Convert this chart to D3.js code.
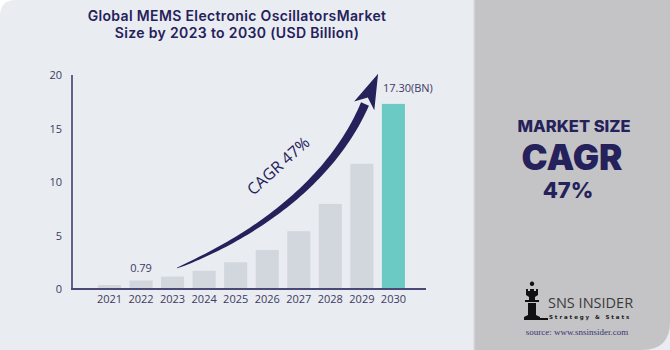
<!DOCTYPE html>
<html><head><meta charset="utf-8">
<script src="https://cdn.jsdelivr.net/npm/d3@7"></script>
<style>
html,body{margin:0;padding:0;background:#fff;}
svg{display:block;}
</style></head>
<body>
<svg id="chart" width="670" height="350"></svg>
<script>
const years = ["2021","2022","2023","2024","2025","2026","2027","2028","2029","2030"];
const values = [0.37, 0.79, 1.16, 1.7, 2.5, 3.65, 5.4, 7.95, 11.7, 17.3];
const yTicks = [0, 5, 10, 15, 20];
const titleLines = ["Global MEMS Electronic OscillatorsMarket", "Size by 2023 to 2030 (USD Billion)"];
const firstLabel = "0.79";
const lastLabel = "17.30(BN)";
const cagrText = "CAGR 47%";

const navy = "#25215a";
const svg = d3.select("#chart");

// backgrounds
svg.append("path")
  .attr("d", "M0,16 Q0,0 16,0 L474,0 L474,350 L0,350 Z")
  .attr("fill", "#e9ecf1");
svg.append("rect").attr("x", 474).attr("y", 0).attr("width", 196).attr("height", 350).attr("fill", "#e9ecf1");
svg.append("path")
  .attr("d", "M474,0 L670,0 L670,322 Q670,350 642,350 L474,350 Z")
  .attr("fill", "#c4c4c6");
svg.append("rect").attr("x", 473.5).attr("y", 0).attr("width", 1.6).attr("height", 350).attr("fill", "#d2d3d6");

// title
svg.append("text")
  .attr("x", 237).attr("text-anchor", "middle")
  .attr("font-family", "Inter, sans-serif").attr("font-weight", 600)
  .attr("font-size", 14).attr("letter-spacing", 0.35).attr("fill", navy)
  .selectAll("tspan").data(titleLines).join("tspan")
  .attr("x", 237).attr("y", (d, i) => 21 + i * 17).text(d => d);

// scales
const x = d3.scaleBand().domain(years).range([93.7, 409.2]).paddingInner(0.27).paddingOuter(0.135);
const y = d3.scaleLinear().domain([0, 20]).range([289, 75]);

// bars
svg.append("g").selectAll("rect").data(values).join("rect")
  .attr("x", (d, i) => x(years[i]))
  .attr("y", d => y(d))
  .attr("width", x.bandwidth())
  .attr("height", d => y(0) - y(d))
  .attr("fill", (d, i) => i === values.length - 1 ? "#6ccac4" : "#d1d7dc");

// y axis
const yAxis = svg.append("g").attr("transform", "translate(72,0)")
  .call(d3.axisLeft(y).tickValues(yTicks).tickSize(0).tickPadding(10));
yAxis.select(".domain").attr("stroke", "#34326a").attr("stroke-width", 1.5).attr("d", `M0,${y(20)}V${y(0)}`);
yAxis.selectAll("text").attr("font-family", "'Open Sans', sans-serif").attr("font-size", 11).attr("fill", "#3c3a62");

// x axis
const xAxis = svg.append("g").attr("transform", `translate(0,${y(0)})`)
  .call(d3.axisBottom(x).tickSize(0).tickPadding(6));
xAxis.select(".domain").attr("stroke", "#4a4874").attr("stroke-width", 2).attr("d", "M71,0H426");
xAxis.selectAll("text").attr("font-family", "'Open Sans', sans-serif").attr("font-size", 11).attr("fill", "#3c3a62");

// value labels
svg.append("text").attr("x", x(years[1]) + x.bandwidth() / 2).attr("y", y(values[1]) - 9)
  .attr("text-anchor", "middle").attr("font-family", "'Open Sans', sans-serif")
  .attr("font-size", 11).attr("fill", "#3c3a62").text(firstLabel);
svg.append("text").attr("x", x(years[9]) + 1).attr("y", y(values[9]) - 12)
  .attr("font-family", "'Open Sans', sans-serif")
  .attr("font-size", 11).attr("fill", "#3c3a62").text(lastLabel);

// curved arrow
const P0 = [177, 268], C1 = [250, 238], C2 = [330, 185], P3 = [365, 104];
function bez(t) {
  const mt = 1 - t;
  return [0, 1].map(k => mt*mt*mt*P0[k] + 3*mt*mt*t*C1[k] + 3*mt*t*t*C2[k] + t*t*t*P3[k]);
}
function der(t) {
  const mt = 1 - t;
  return [0, 1].map(k => 3*mt*mt*(C1[k]-P0[k]) + 6*mt*t*(C2[k]-C1[k]) + 3*t*t*(P3[k]-C2[k]));
}
const N = 60, left = [], right = [];
for (let i = 0; i <= N; i++) {
  const t = i / N, p = bez(t), d = der(t);
  const L = Math.hypot(d[0], d[1]), nx = -d[1] / L, ny = d[0] / L;
  const w = 0.3 + 4.0 * Math.pow(t, 0.6);
  left.push([p[0] + nx * w, p[1] + ny * w]);
  right.push([p[0] - nx * w, p[1] - ny * w]);
}
const body = left.concat(right.reverse());
svg.append("path").attr("d", d3.line()(body) + "Z").attr("fill", navy);
// head
const endP = bez(1), endD = der(1);
const eL = Math.hypot(endD[0], endD[1]);
const ux = endD[0] / eL, uy = endD[1] / eL, vx = -uy, vy = ux;
const tip = [endP[0] + ux * 33, endP[1] + uy * 33];
const b1 = [endP[0] + vx * 11 - ux * 2, endP[1] + vy * 11 - uy * 2];
const b2 = [endP[0] - vx * 11 - ux * 2, endP[1] - vy * 11 - uy * 2];
const notch = [endP[0] + ux * 7, endP[1] + uy * 7];
svg.append("path").attr("d", d3.line()([tip, b1, notch, b2]) + "Z").attr("fill", navy);

svg.append("text").attr("transform", "translate(282,170) rotate(-42)")
  .attr("text-anchor", "middle").attr("font-family", "'Open Sans', sans-serif")
  .attr("font-size", 16).attr("fill", navy).text(cagrText);

// right panel text
const rp = svg.append("g").attr("font-family", "Inter, sans-serif").attr("fill", navy).attr("text-anchor", "middle");
rp.append("text").attr("x", 574).attr("y", 131.5).attr("font-size", 16.5).attr("font-weight", 800).text("MARKET SIZE");
rp.append("text").attr("x", 572).attr("y", 170).attr("font-size", 35).attr("font-weight", 900).text("CAGR");
rp.append("text").attr("x", 568).attr("y", 198).attr("font-size", 22).attr("font-weight", 800).text("47%");

// logo
const lg = svg.append("g").attr("fill", "#111");
lg.append("path").attr("d", "M532,286 a2.2,2.2 0 1,1 0.01,0 Z");
lg.append("path").attr("d", "M526,289 L528,289 L528,291 L530,291 L530,289 L534,289 L534,291 L536,291 L536,289 L538,289 L538,295 L535,297 L535,300 L539,300 L539,302 L525,302 L525,300 L529,300 L529,297 L526,295 Z");
lg.append("path").attr("d", "M528,303 L536,303 L536,315 L540,317 L540,320 L524,320 L524,317 L528,315 Z");
lg.append("rect").attr("x", 536).attr("y", 318).attr("width", 12).attr("height", 2);
svg.append("text").attr("x", 548).attr("y", 308).attr("font-family", "'Open Sans', sans-serif")
  .attr("font-size", 14.5).attr("fill", "#3a3a3a").text("SNS INSIDER");
svg.append("text").attr("x", 549).attr("y", 318.5).attr("font-family", "'DejaVu Sans', sans-serif")
  .attr("font-size", 5.5).attr("font-weight", "bold").attr("letter-spacing", 1.9).attr("fill", "#222").text("Strategy & Stats");
svg.append("text").attr("x", 577).attr("y", 334.5).attr("text-anchor", "middle")
  .attr("font-family", "'Liberation Serif', serif").attr("font-size", 9).attr("fill", "#3a3470").text("source: www.snsinsider.com");
</script>
</body></html>
